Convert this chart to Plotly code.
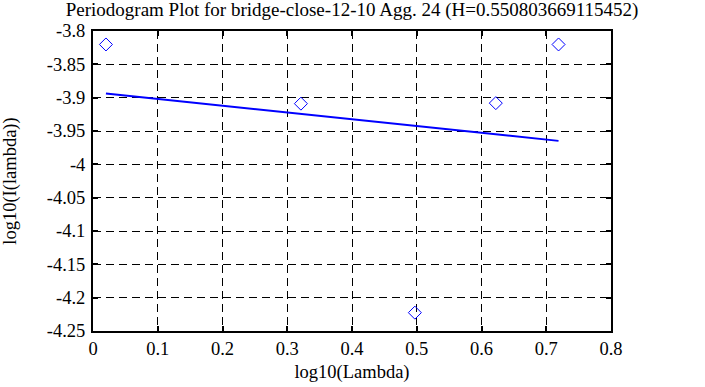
import plotly.graph_objects as go

# Periodogram points (log10 frequency, log10 periodogram)
log_lambda = [0.0200, 0.3211, 0.4971, 0.6221, 0.7190]
log_I = [-3.8202, -3.9090, -4.2225, -3.9082, -3.8202]

# Least-squares fit line endpoints (slope = 1 - 2H)
fit_x = [0.0200, 0.7190]
fit_y = [-3.8938, -3.9648]

x_ticks = [0, 0.1, 0.2, 0.3, 0.4, 0.5, 0.6, 0.7, 0.8]
x_ticktext = ["0", "0.1", "0.2", "0.3", "0.4", "0.5", "0.6", "0.7", "0.8"]
y_ticks = [-3.8, -3.85, -3.9, -3.95, -4.0, -4.05, -4.1, -4.15, -4.2, -4.25]
y_ticktext = ["-3.8", "-3.85", "-3.9", "-3.95", "-4", "-4.05", "-4.1", "-4.15", "-4.2", "-4.25"]

title_text = "Periodogram Plot for bridge-close-12-10 Agg. 24 (H=0.550803669115452)"

FONT = "Liberation Serif"
TICK_SIZE = 18.5
TITLE_SIZE = 19

fig = go.Figure()
fig.add_trace(go.Scatter(
    x=log_lambda, y=log_I, mode="markers",
    marker=dict(symbol="diamond-open", size=10, color="#0000ff", line=dict(width=1, color="#0000ff")),
    showlegend=False, hoverinfo="skip",
))
fig.add_trace(go.Scatter(
    x=fit_x, y=fit_y, mode="lines",
    line=dict(color="#0000ff", width=2),
    showlegend=False, hoverinfo="skip",
))

axis_common = dict(
    showline=True, linewidth=2, linecolor="black", mirror="allticks",
    ticks="inside", ticklen=5, tickwidth=2, tickcolor="black",
    showgrid=True, gridcolor="black", gridwidth=1, griddash="8px,5px",
    zeroline=False, automargin=False,
    tickfont=dict(family=FONT, size=TICK_SIZE, color="black"),
)

fig.update_layout(
    width=705, height=387, autosize=False,
    paper_bgcolor="white", plot_bgcolor="white",
    margin=dict(l=93, r=94, t=31, b=56, pad=0),
    font=dict(family=FONT, size=TICK_SIZE, color="black"),
    title=dict(text=title_text, x=0.5, xref="paper", xanchor="center",
               y=1 - 2.5 / 387, yref="container", yanchor="top",
               pad=dict(t=0, b=0, l=0, r=0),
               font=dict(family=FONT, size=TITLE_SIZE, color="black")),
    xaxis=dict(range=[0, 0.8], tickmode="array", tickvals=x_ticks, ticktext=x_ticktext,
               title=dict(text="log10(Lambda)", standoff=7,
                          font=dict(family=FONT, size=TICK_SIZE, color="black")),
               **axis_common),
    yaxis=dict(range=[-4.25, -3.8], tickmode="array", tickvals=y_ticks, ticktext=y_ticktext,
               ticklabelstandoff=2,
               title=dict(text="log10(I(lambda))", standoff=25,
                          font=dict(family=FONT, size=TICK_SIZE, color="black")),
               **axis_common),
)

fig.write_html("out.html", config={"displayModeBar": False, "staticPlot": True},
               post_script="document.body.style.margin='0';")
